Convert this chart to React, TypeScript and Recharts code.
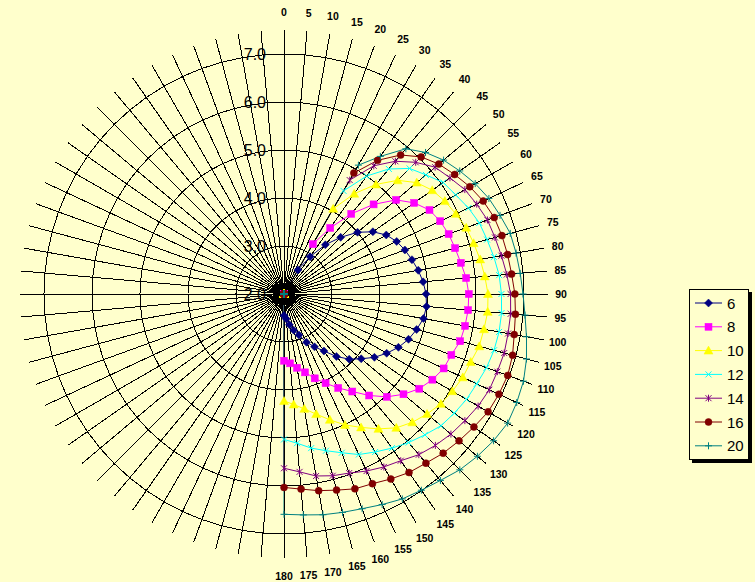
import React from 'react';
import { RadarChart, Radar, PolarGrid, PolarAngleAxis, PolarRadiusAxis, Legend } from 'recharts';

// Categories: wind angle in degrees (full circle, labels only shown for 0..180)
const angles = [
  0, 5, 10, 15, 20, 25, 30, 35, 40, 45, 50, 55, 60, 65, 70, 75, 80, 85,
  90, 95, 100, 105, 110, 115, 120, 125, 130, 135, 140, 145, 150, 155, 160, 165, 170, 175,
  180, 185, 190, 195, 200, 205, 210, 215, 220, 225, 230, 235, 240, 245, 250, 255, 260, 265,
  270, 275, 280, 285, 290, 295, 300, 305, 310, 315, 320, 325, 330, 335, 340, 345, 350, 355,
];
const angleLabelMax = 180;
// series values start at this angle, one value every 5 degrees up to 180
const seriesStartAngle = 30;
const angleStep = 5;

const s6 = [2.58, 2.95, 3.34, 3.67, 4.0, 4.26, 4.46, 4.59, 4.68, 4.76, 4.84, 4.91, 4.96, 4.98, 4.95, 4.86, 4.76, 4.63, 4.47, 4.3, 4.1, 3.92, 3.7, 3.45, 3.27, 3.11, 2.91, 2.78, 2.65, 2.52, 2.45];
const s8 = [3.2, 3.68, 4.18, 4.64, 5.05, 5.31, 5.5, 5.59, 5.65, 5.69, 5.74, 5.81, 5.85, 5.85, 5.83, 5.8, 5.71, 5.67, 5.57, 5.44, 5.25, 5.03, 4.76, 4.48, 4.26, 4.05, 3.87, 3.69, 3.56, 3.45, 3.39];
const s10 = [4.05, 4.55, 4.98, 5.35, 5.61, 5.77, 5.87, 5.95, 6.04, 6.09, 6.15, 6.2, 6.25, 6.26, 6.23, 6.21, 6.14, 6.11, 6.05, 5.99, 5.89, 5.78, 5.64, 5.43, 5.21, 5.01, 4.79, 4.59, 4.43, 4.31, 4.23];
const s12 = [4.48, 5.0, 5.4, 5.7, 5.86, 6.05, 6.13, 6.24, 6.33, 6.38, 6.44, 6.5, 6.53, 6.55, 6.55, 6.53, 6.49, 6.43, 6.39, 6.33, 6.27, 6.15, 6.04, 5.92, 5.8, 5.69, 5.52, 5.38, 5.26, 5.12, 5.03];
const s14 = [4.74, 5.26, 5.61, 5.88, 6.11, 6.22, 6.35, 6.43, 6.51, 6.55, 6.6, 6.66, 6.72, 6.74, 6.74, 6.75, 6.73, 6.72, 6.67, 6.6, 6.54, 6.46, 6.37, 6.24, 6.16, 6.07, 5.97, 5.92, 5.85, 5.72, 5.63];
const s16 = [4.91, 5.4, 5.78, 6.04, 6.21, 6.34, 6.47, 6.58, 6.66, 6.7, 6.73, 6.76, 6.81, 6.84, 6.87, 6.93, 6.96, 6.94, 6.91, 6.83, 6.76, 6.69, 6.6, 6.54, 6.45, 6.36, 6.32, 6.23, 6.16, 6.08, 6.03];
const s20 = [5.1, 5.5, 5.95, 6.17, 6.34, 6.47, 6.6, 6.71, 6.79, 6.88, 6.91, 6.94, 6.98, 7.04, 7.13, 7.23, 7.31, 7.35, 7.38, 7.33, 7.26, 7.18, 7.07, 6.99, 6.93, 6.84, 6.76, 6.71, 6.67, 6.62, 6.59];

const seriesNames = ['6', '8', '10', '12', '14', '16', '20'];
const seriesValues = [s6, s8, s10, s12, s14, s16, s20];
const seriesColors = ['#000080', '#FF00FF', '#FFFF00', '#00FFFF', '#800080', '#800000', '#008080'];
const seriesMarkers = ['diamond', 'square', 'triangle', 'x', 'star', 'circle', 'plus'];

// Recharts nices the radius domain to [2, 8]; the visible plot (spokes) ends at 7.5
const radiusDomain = [2, 8];
const radiusVisibleMax = 7.5;
const radiusTicks = [2, 3, 4, 5, 6, 7];

const data = angles.map((a) => {
  const row: Record<string, number | null> = { angle: a };
  seriesNames.forEach((n, si) => {
    const idx = (a - seriesStartAngle) / angleStep;
    const vals = seriesValues[si];
    row['s' + n] = idx >= 0 && idx < vals.length ? vals[idx] : null;
  });
  return row;
});

const W = 755;
const H = 582;
const CX = 284;
const CY = 294;
const GRID_R = 264; // radius of the spokes (value 7.5)
const SCALE_R = (GRID_R * (radiusDomain[1] - radiusDomain[0])) / (radiusVisibleMax - radiusDomain[0]);
const FONT = '"Liberation Sans", Arial, sans-serif';
const BG = '#FFFFCC';

function MarkerShape({ shape, color, x, y }: { shape: string; color: string; x: number; y: number }) {
  switch (shape) {
    case 'diamond':
      return <polygon points={`${x},${y - 4} ${x + 4},${y} ${x},${y + 4} ${x - 4},${y}`} fill={color} stroke={color} strokeWidth={0.5} />;
    case 'square':
      return <rect x={x - 3.5} y={y - 3.5} width={7} height={7} fill={color} stroke={color} strokeWidth={0.5} />;
    case 'triangle':
      return <polygon points={`${x},${y - 4.5} ${x + 4.5},${y + 3.5} ${x - 4.5},${y + 3.5}`} fill={color} stroke={color} strokeWidth={0.5} />;
    case 'x':
      return (
        <g stroke={color} strokeWidth={1}>
          <line x1={x - 3} y1={y - 3} x2={x + 3} y2={y + 3} />
          <line x1={x - 3} y1={y + 3} x2={x + 3} y2={y - 3} />
        </g>
      );
    case 'star':
      return (
        <g stroke={color} strokeWidth={1}>
          <line x1={x - 3} y1={y - 3} x2={x + 3} y2={y + 3} />
          <line x1={x - 3} y1={y + 3} x2={x + 3} y2={y - 3} />
          <line x1={x} y1={y - 3.5} x2={x} y2={y + 3.5} />
        </g>
      );
    case 'circle':
      return <circle cx={x} cy={y} r={3.5} fill={color} stroke={color} strokeWidth={0.5} />;
    case 'plus':
    default:
      return (
        <g stroke={color} strokeWidth={1}>
          <line x1={x - 3.5} y1={y} x2={x + 3.5} y2={y} />
          <line x1={x} y1={y - 3.5} x2={x} y2={y + 3.5} />
        </g>
      );
  }
}

const makeDot = (shape: string, color: string) => (props: any) => {
  const { cx, cy, index } = props;
  if (!Number.isFinite(cx) || !Number.isFinite(cy)) return <g key={`d-${index}`} />;
  return (
    <g key={`d-${index}`}>
      <MarkerShape shape={shape} color={color} x={cx} y={cy} />
    </g>
  );
};

// Angle-axis tick: draws the spoke (grid radial line, ending at 7.5) and the label.
const AngleTick = (props: any) => {
  const { x, y, payload } = props;
  const cx = Number.isFinite(props.cx) ? props.cx : CX;
  const cy = Number.isFinite(props.cy) ? props.cy : CY;
  const v = Number(payload.value);
  const dx = x - cx;
  const dy = y - cy;
  const len = Math.hypot(dx, dy) || 1;
  const ux = dx / len;
  const uy = dy / len;
  const r = GRID_R + 13 + 5 * Math.abs(uy);
  return (
    <g>
      <line x1={cx} y1={cy} x2={cx + ux * GRID_R} y2={cy + uy * GRID_R} stroke="#000" strokeWidth={1} shapeRendering="crispEdges" />
      {v <= angleLabelMax ? (
        <text x={cx + ux * r} y={cy + uy * r} textAnchor="middle" dominantBaseline="central" fontFamily={FONT} fontWeight="bold" fontSize={10.5} fill="#000">
          {v}
        </text>
      ) : null}
    </g>
  );
};

const RadiusTick = (props: any) => {
  const { x, y, payload } = props;
  return (
    <text x={x - 18} y={y} textAnchor="end" dominantBaseline="central" fontFamily={FONT} fontSize={16} fill="#000">
      {Number(payload.value).toFixed(1)}
    </text>
  );
};

const LegendContent = () => {
  const rowH = 23.8;
  const h = 14 + rowH * (seriesNames.length - 1) + 14;
  return (
    <div style={{ position: 'relative', width: 60, height: h, boxSizing: 'border-box', border: '1px solid #000', background: BG, boxShadow: '3px 3px 0 #000' }}>
      <svg width={58} height={h - 2} style={{ display: 'block' }}>
        {seriesNames.map((n, i) => {
          const yy = 13 + i * rowH;
          return (
            <g key={n}>
              <line x1={5} y1={yy} x2={32} y2={yy} stroke={seriesColors[i]} strokeWidth={1} />
              <MarkerShape shape={seriesMarkers[i]} color={seriesColors[i]} x={18.5} y={yy} />
              <text x={37} y={yy} dominantBaseline="central" fontFamily={FONT} fontSize={15} fill="#000">
                {n}
              </text>
            </g>
          );
        })}
      </svg>
    </div>
  );
};

export default function App() {
  return (
    <div style={{ position: 'absolute', left: 0, top: 0, width: W, height: H, background: BG }}>
      <RadarChart
        width={W}
        height={H}
        data={data}
        cx={CX}
        cy={CY}
        outerRadius={SCALE_R}
        innerRadius={0}
        margin={{ top: 0, right: 0, bottom: 0, left: 0 }}
        style={{ background: BG }}
      >
        <PolarGrid gridType="polygon" radialLines={false} stroke="#000" strokeWidth={1} strokeOpacity={1} shapeRendering="crispEdges" />
        <PolarAngleAxis dataKey="angle" tick={AngleTick} axisLine={false} tickLine={false} />
        <PolarRadiusAxis
          angle={90}
          type="number"
          domain={radiusDomain}
          ticks={radiusTicks}
          tick={RadiusTick}
          axisLine={false}
          tickLine={false}
          allowDataOverflow
        />
        {seriesNames.map((n, i) => (
          <Radar
            key={n}
            name={n}
            dataKey={'s' + n}
            stroke={seriesColors[i]}
            strokeWidth={1}
            fill="none"
            fillOpacity={0}
            dot={makeDot(seriesMarkers[i], seriesColors[i])}
            activeDot={false}
            isAnimationActive={false}
          />
        ))}
        <Legend
          layout="vertical"
          align="right"
          verticalAlign="top"
          content={LegendContent}
          wrapperStyle={{ left: 689, top: 289, width: 64, right: 'auto' }}
        />
      </RadarChart>
    </div>
  );
}
